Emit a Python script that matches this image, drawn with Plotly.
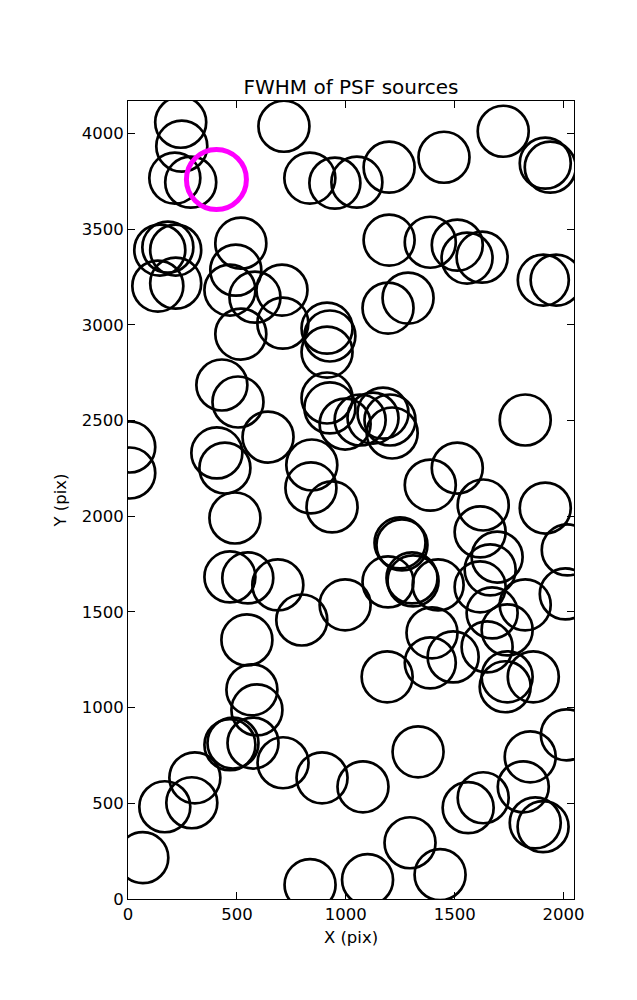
import plotly.graph_objects as go

# Source positions (pixels)
src_x = [242, 247, 215, 288, 716, 835, 950, 1051, 1199, 1451, 1723, 1916, 1939,
         146, 183, 219, 137, 219, 518, 495, 468, 583, 707, 711, 518,
         1199, 1388, 1512, 1557, 1626, 1194, 1286, 1907, 1966,
         914, 927, 914, 914, 927, 997, 1066, 1125, 1171, 1203, 1213,
         431, 505, 643, 8, 8, 408, 445, 844, 840, 937, 491,
         1824, 1512, 1388, 1631, 1916,
         468, 550, 688, 798, 997, 546, 569, 592,
         1249, 1258, 2017, 1194, 1304, 1309, 1424, 1617, 1695, 1663, 1617, 2008,
         1824, 1672, 1396, 1741, 1649, 1493, 1388, 1190, 1741, 1861, 1732,
         468, 482, 574, 712, 891, 1079, 307, 169, 293, 68, 836, 1100,
         1332, 2013, 1847, 1562, 1631, 1815, 1870, 1906, 1295, 1433]
src_y = [4059, 3934, 3767, 3746, 4038, 3767, 3741, 3746, 3824, 3876, 4012, 3845, 3824,
         3391, 3406, 3391, 3203, 3218, 3427, 3286, 3182, 3145, 3182, 3009, 2952,
         3443, 3432, 3417, 3349, 3354, 3088, 3140, 3234, 3234,
         2983, 2942, 2858, 2618, 2566, 2482, 2503, 2513, 2539, 2503, 2435,
         2686, 2597, 2414, 2362, 2226, 2331, 2252, 2268, 2148, 2049, 1991,
         2503, 2252, 2163, 2059, 2043,
         1683, 1678, 1641, 1458, 1537, 1354, 1093, 988,
         1861, 1850, 1824, 1657, 1678, 1662, 1641, 1918, 1787, 1720, 1631, 1594,
         1537, 1495, 1391, 1406, 1317, 1265, 1234, 1161, 1161, 1161, 1109,
         806, 815, 815, 712, 633, 586, 633, 482, 503, 216, 75, 101,
         769, 858, 743, 477, 529, 586, 398, 378, 294, 127]

# Highlighted source
hl_x = [406]
hl_y = [3760]

x_ticks = [0, 500, 1000, 1500, 2000]
y_ticks = [0, 500, 1000, 1500, 2000, 2500, 3000, 3500, 4000]

FONT = "DejaVu Sans"

fig = go.Figure()
fig.add_trace(go.Scatter(
    x=src_x, y=src_y, mode="markers",
    marker=dict(symbol="circle-open", size=51, color="black",
                line=dict(width=2.7, color="black")),
    showlegend=False, hoverinfo="skip"))
fig.add_trace(go.Scatter(
    x=hl_x, y=hl_y, mode="markers",
    marker=dict(symbol="circle-open", size=60, color="magenta",
                line=dict(width=5, color="magenta")),
    showlegend=False, hoverinfo="skip"))

axis_common = dict(showgrid=False, zeroline=False, showline=True, linecolor="black",
                   linewidth=1, mirror="allticks", ticks="inside", ticklen=7,
                   tickcolor="black", tickwidth=1,
                   tickfont=dict(family=FONT, size=16.5, color="black"))

fig.update_xaxes(range=[0, 2048], tickvals=x_ticks, ticktext=[str(v) for v in x_ticks],
                 title=dict(text="X (pix)", font=dict(family=FONT, size=16.5, color="black"),
                            standoff=8),
                 **axis_common)
fig.update_yaxes(range=[0, 4170], tickvals=y_ticks, ticktext=[str(v) for v in y_ticks],
                 title=dict(text="Y (pix)", font=dict(family=FONT, size=16.5, color="black"),
                            standoff=10),
                 **axis_common)

fig.update_layout(
    width=637, height=1000,
    margin=dict(l=128, r=63, t=101, b=101),
    paper_bgcolor="white", plot_bgcolor="white",
    title=dict(text="FWHM of PSF sources", x=0.5, xanchor="center", xref="paper",
               y=1 - 87/1000, yanchor="middle",
               font=dict(family=FONT, size=20, color="black")),
)

fig.write_html("out.html",
               config={"displayModeBar": False},
               post_script="document.body.style.margin='0px';document.body.style.overflow='hidden';")
